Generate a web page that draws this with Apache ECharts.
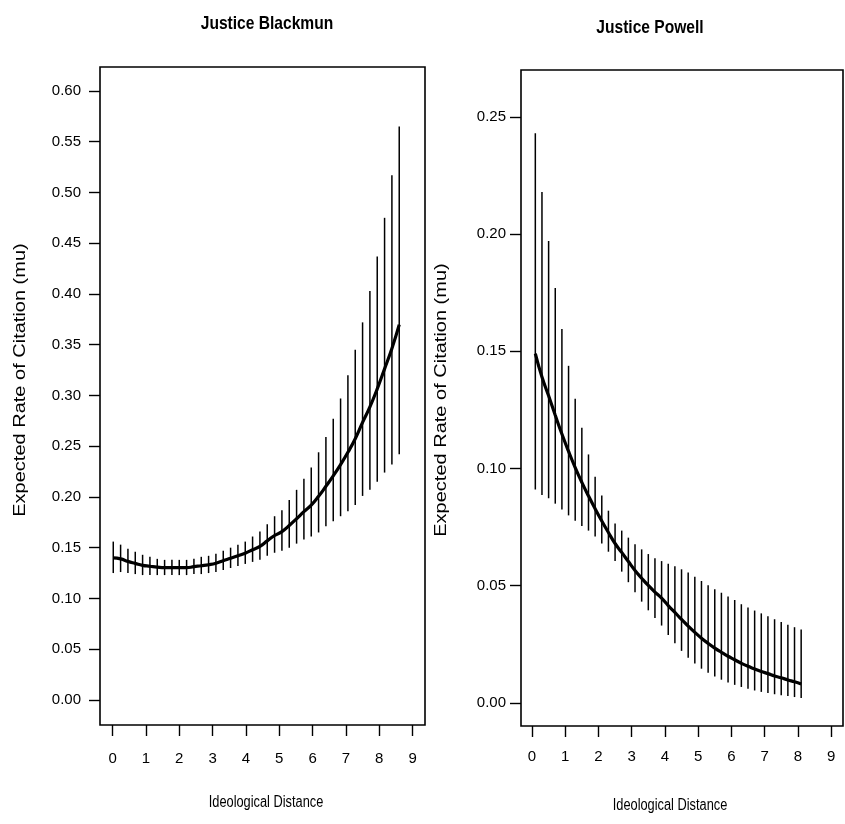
<!DOCTYPE html>
<html><head><meta charset="utf-8">
<script src="https://cdn.jsdelivr.net/npm/echarts@6/dist/echarts.min.js"></script>
<style>html,body{margin:0;padding:0;background:#fff;}#chart{width:845px;height:824px;}</style>
</head><body><div id="chart"></div>
<script>
// ---- tick labels ----
const xTicks = [0, 1, 2, 3, 4, 5, 6, 7, 8, 9];
const blackmunYTicks = [0.00, 0.05, 0.10, 0.15, 0.20, 0.25, 0.30, 0.35, 0.40, 0.45, 0.50, 0.55, 0.60];
const powellYTicks = [0.00, 0.05, 0.10, 0.15, 0.20, 0.25];

// ---- Justice Blackmun ----
const blackmunX = [0.02,0.24,0.46,0.68,0.90,1.12,1.34,1.56,1.78,2.00,2.22,2.44,2.66,2.88,3.10,3.32,3.54,3.76,3.98,4.20,
  4.42,4.64,4.86,5.08,5.30,5.52,5.74,5.96,6.18,6.40,6.62,6.84,7.06,7.28,7.50,7.72,7.94,8.16,8.38,8.60];
const blackmunMu = [0.140,0.139,0.1365,0.1345,0.1326,0.1317,0.1308,0.1303,0.1303,0.1303,0.1303,0.1313,0.1322,0.1332,0.1347,0.1372,0.1396,0.1421,0.1446,0.1480,
  0.1514,0.1567,0.1620,0.1658,0.1719,0.1785,0.1856,0.1920,0.2006,0.2105,0.2208,0.2319,0.2440,0.2574,0.2734,0.2888,0.3065,0.3262,0.3463,0.3698];
const blackmunLower = [0.125,0.126,0.125,0.124,0.123,0.123,0.123,0.123,0.123,0.123,0.123,0.124,0.124,0.125,0.126,0.128,0.130,0.132,0.134,0.136,
  0.138,0.142,0.145,0.147,0.150,0.154,0.158,0.161,0.165,0.171,0.176,0.181,0.186,0.192,0.201,0.207,0.215,0.224,0.232,0.242];
const blackmunUpper = [0.156,0.153,0.149,0.146,0.143,0.141,0.139,0.138,0.138,0.138,0.138,0.139,0.141,0.142,0.144,0.147,0.150,0.153,0.156,0.161,
  0.166,0.173,0.181,0.187,0.197,0.207,0.218,0.229,0.244,0.259,0.277,0.297,0.320,0.345,0.372,0.403,0.437,0.475,0.517,0.565];

// ---- Justice Powell ----
const powellX = [0.1,0.3,0.5,0.7,0.9,1.1,1.3,1.5,1.7,1.9,2.1,2.3,2.5,2.7,2.9,3.1,3.3,3.5,3.7,3.9,
  4.1,4.3,4.5,4.7,4.9,5.1,5.3,5.5,5.7,5.9,6.1,6.3,6.5,6.7,6.9,7.1,7.3,7.5,7.7,7.9,8.1];
const powellMu = [0.149,0.139,0.131,0.1227,0.1147,0.1073,0.1004,0.0941,0.0883,0.0828,0.0776,0.0727,0.068,0.0642,0.0603,0.0565,0.0532,0.0501,0.0473,0.0447,
  0.0415,0.0386,0.0356,0.0328,0.0301,0.0276,0.0254,0.0234,0.0216,0.0199,0.0184,0.0169,0.0156,0.0145,0.0134,0.0125,0.0115,0.0107,0.0098,0.009,0.0081];
const powellLower = [0.091,0.0887,0.0873,0.085,0.0825,0.08,0.0777,0.0755,0.0735,0.071,0.068,0.0645,0.0605,0.056,0.0515,0.0472,0.0432,0.0395,0.0362,0.033,
  0.029,0.0255,0.0222,0.0193,0.0168,0.0146,0.0129,0.0113,0.0099,0.0087,0.0077,0.0068,0.006,0.0053,0.0047,0.0042,0.0037,0.0033,0.0029,0.0025,0.0021];
const powellUpper = [0.243,0.218,0.197,0.177,0.1595,0.1438,0.1298,0.1174,0.106,0.0965,0.0885,0.082,0.0765,0.0735,0.0705,0.0677,0.0655,0.0635,0.0617,0.0605,
  0.0594,0.0583,0.057,0.0556,0.0538,0.052,0.0502,0.0485,0.047,0.0454,0.0439,0.0421,0.0407,0.0394,0.0382,0.037,0.0357,0.0345,0.0333,0.0323,0.0313];

const FONT = '"Liberation Sans", Arial, sans-serif';
const chart = echarts.init(document.getElementById('chart'), null, {renderer: 'canvas'});

function barData(xs, lo, hi) { return xs.map((x, i) => [x, lo[i], hi[i]]); }
function lineData(xs, mu) { return xs.map((x, i) => [x, mu[i]]); }
function renderBar(params, api) {
  const a = api.coord([api.value(0), api.value(1)]);
  const b = api.coord([api.value(0), api.value(2)]);
  return {type: 'line', shape: {x1: a[0], y1: a[1], x2: b[0], y2: b[1]},
    style: {stroke: '#000', lineWidth: 1.5}};
}
function xAxisCfg(grid, min, max, margin) {
  return {type: 'value', gridIndex: grid, min: min, max: max, position: 'bottom',
    axisLine: {show: false, onZero: false}, splitLine: {show: false},
    axisTick: {show: true, inside: false, length: 11, customValues: xTicks, lineStyle: {color: '#000', width: 1.4}},
    axisLabel: {show: true, customValues: xTicks, margin: margin, color: '#000', fontSize: 15, fontFamily: FONT}};
}
function yAxisCfg(grid, min, max, ticks, margin) {
  return {type: 'value', gridIndex: grid, min: min, max: max, position: 'left',
    axisLine: {show: false, onZero: false}, splitLine: {show: false},
    axisTick: {show: true, inside: false, length: 11, customValues: ticks, lineStyle: {color: '#000', width: 1.4}},
    axisLabel: {show: true, customValues: ticks, margin: margin, color: '#000', fontSize: 15, fontFamily: FONT,
      formatter: v => v.toFixed(2)}};
}

const option = {
  animation: false,
  backgroundColor: '#fff',
  textStyle: {fontFamily: FONT, color: '#000'},
  grid: [
    {left: 100, top: 67, width: 325, height: 658, show: true, borderColor: '#000', borderWidth: 1.6, backgroundColor: 'transparent'},
    {left: 521, top: 70, width: 322, height: 656, show: true, borderColor: '#000', borderWidth: 1.6, backgroundColor: 'transparent'}
  ],
  xAxis: [xAxisCfg(0, -0.378, 9.373, 26), xAxisCfg(1, -0.331, 9.359, 23)],
  yAxis: [yAxisCfg(0, -0.0247, 0.6236, blackmunYTicks, 19), yAxisCfg(1, -0.00985, 0.270, powellYTicks, 15)],
  series: [
    {type: 'custom', xAxisIndex: 0, yAxisIndex: 0, renderItem: renderBar, encode: {x: 0, y: [1, 2]},
      data: barData(blackmunX, blackmunLower, blackmunUpper), silent: true},
    {type: 'line', xAxisIndex: 0, yAxisIndex: 0, data: lineData(blackmunX, blackmunMu), smooth: true,
      showSymbol: false, lineStyle: {color: '#000', width: 3.2}, silent: true},
    {type: 'custom', xAxisIndex: 1, yAxisIndex: 1, renderItem: renderBar, encode: {x: 0, y: [1, 2]},
      data: barData(powellX, powellLower, powellUpper), silent: true},
    {type: 'line', xAxisIndex: 1, yAxisIndex: 1, data: lineData(powellX, powellMu), smooth: true,
      showSymbol: false, lineStyle: {color: '#000', width: 3.2}, silent: true}
  ],
  graphic: [
    {type: 'text', x: 267, y: 24, scaleX: 0.82, style: {text: 'Justice Blackmun', align: 'center', verticalAlign: 'middle', font: 'bold 19px ' + FONT, fill: '#000'}},
    {type: 'text', x: 650, y: 28, scaleX: 0.82, style: {text: 'Justice Powell', align: 'center', verticalAlign: 'middle', font: 'bold 19px ' + FONT, fill: '#000'}},
    {type: 'text', x: 266, y: 803, scaleX: 0.8, style: {text: 'Ideological Distance', align: 'center', verticalAlign: 'middle', font: '16px ' + FONT, fill: '#000'}},
    {type: 'text', x: 670, y: 806, scaleX: 0.8, style: {text: 'Ideological Distance', align: 'center', verticalAlign: 'middle', font: '16px ' + FONT, fill: '#000'}},
    {type: 'text', x: 20, y: 380, rotation: Math.PI / 2, scaleY: 0.85, style: {text: 'Expected Rate of Citation (mu)', align: 'center', verticalAlign: 'middle', font: '20px ' + FONT, fill: '#000'}},
    {type: 'text', x: 441, y: 400, rotation: Math.PI / 2, scaleY: 0.85, style: {text: 'Expected Rate of Citation (mu)', align: 'center', verticalAlign: 'middle', font: '20px ' + FONT, fill: '#000'}}
  ]
};
chart.setOption(option);
</script></body></html>
